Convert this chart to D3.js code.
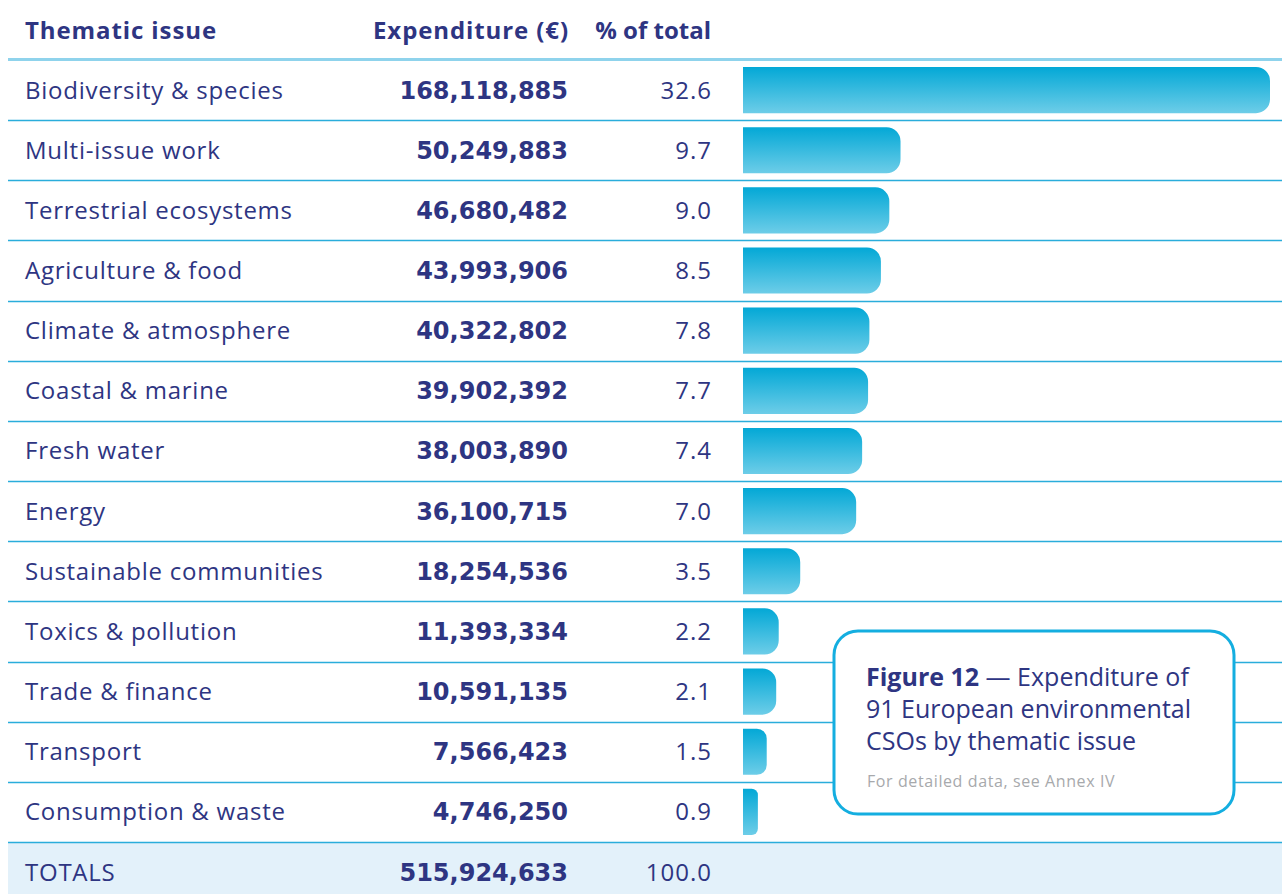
<!DOCTYPE html>
<html>
<head>
<meta charset="utf-8">
<script src="https://cdn.jsdelivr.net/npm/d3@7"></script>
<style>
  body { margin: 0; background: #fff; }
  text { font-family: "Open Sans", sans-serif; }
  .num { font-family: "DejaVu Sans", sans-serif; }
</style>
</head>
<body>
<svg id="chart"></svg>
<script>
const categories = [
  "Biodiversity & species", "Multi-issue work", "Terrestrial ecosystems",
  "Agriculture & food", "Climate & atmosphere", "Coastal & marine",
  "Fresh water", "Energy", "Sustainable communities", "Toxics & pollution",
  "Trade & finance", "Transport", "Consumption & waste"
];
const expenditure = [
  168118885, 50249883, 46680482, 43993906, 40322802, 39902392,
  38003890, 36100715, 18254536, 11393334, 10591135, 7566423, 4746250
];
const percent = [32.6, 9.7, 9.0, 8.5, 7.8, 7.7, 7.4, 7.0, 3.5, 2.2, 2.1, 1.5, 0.9];
const totalLabel = "TOTALS";
const totalExpenditure = 515924633;
const totalPercent = 100.0;
const headers = ["Thematic issue", "Expenditure (€)", "% of total"];

const W = 1282, H = 894;
const navy = "#2e3582", lineCol = "#2aaddb";

const svg = d3.select("#chart").attr("width", W).attr("height", H);

const defs = svg.append("defs");
const grad = defs.append("linearGradient").attr("id", "barGrad")
  .attr("x1", 0).attr("y1", 0).attr("x2", 0).attr("y2", 1);
grad.append("stop").attr("offset", "0%").attr("stop-color", "#03a8d6");
grad.append("stop").attr("offset", "100%").attr("stop-color", "#6dcde8");

const rows = categories.concat([totalLabel]);
const y = d3.scaleBand().domain(rows).range([60, 60 + 14 * 60.15]).padding(0);
const x = d3.scaleLinear().domain([0, d3.max(expenditure)]).range([743, 1270]);
const fmt = d3.format(",");

// totals background
svg.append("rect")
  .attr("x", 8).attr("y", y(totalLabel))
  .attr("width", W - 8).attr("height", H - y(totalLabel))
  .attr("fill", "#e3f1fa");

// row separators
svg.append("line").attr("x1", 8).attr("x2", W).attr("y1", 59.5).attr("y2", 59.5)
  .attr("stroke", "#8fd3ec").attr("stroke-width", 3);
svg.selectAll(".sep")
  .data(rows.slice(1))
  .enter()
  .append("line")
  .attr("x1", 8).attr("x2", W)
  .attr("y1", d => Math.round(y(d)) + 0.5)
  .attr("y2", d => Math.round(y(d)) + 0.5)
  .attr("stroke", lineCol).attr("stroke-width", 1.5);

// headers
const hy = 39;
const head = svg.append("g").attr("fill", navy).attr("font-weight", 700).attr("font-size", 24);
head.append("text").attr("x", 25).attr("y", hy).attr("letter-spacing", 0.9).text(headers[0]);
head.append("text").attr("x", 569).attr("y", hy).attr("letter-spacing", 0.9)
  .attr("text-anchor", "end").text(headers[1]);
head.append("text").attr("x", 711).attr("y", hy).attr("text-anchor", "end").text(headers[2]);

// rows
const data = categories.map((c, i) => ({ c, v: expenditure[i], p: percent[i] }));
const allRows = data.concat([{ c: totalLabel, v: totalExpenditure, p: totalPercent, total: true }]);
const mid = d => y(d.c) + y.bandwidth() / 2 + 8.5;

svg.selectAll(".lab").data(allRows).enter().append("text")
  .attr("x", 25).attr("y", mid).text(d => d.c)
  .attr("fill", navy).attr("font-size", 24).attr("letter-spacing", 0.75);
svg.selectAll(".amt").data(allRows).enter().append("text")
  .attr("class", "num")
  .attr("x", 568).attr("y", mid).attr("text-anchor", "end").text(d => fmt(d.v))
  .attr("fill", navy).attr("font-size", 24).attr("font-weight", 700);
svg.selectAll(".pct").data(allRows).enter().append("text")
  .attr("x", 712).attr("y", mid).attr("text-anchor", "end").text(d => d.p.toFixed(1))
  .attr("fill", navy).attr("font-size", 24).attr("letter-spacing", 1);

// bars with rounded right end
function barPath(d) {
  const x0 = x(0), x1 = x(d.v);
  const y0 = y(d.c) + 7, y1 = y(d.c) + y.bandwidth() - 7;
  const w = x1 - x0;
  const r = Math.min(14, w / 2.4);
  return `M${x0},${y0}H${x1 - r}A${r},${r} 0 0 1 ${x1},${y0 + r}` +
    `V${y1 - r}A${r},${r} 0 0 1 ${x1 - r},${y1}H${x0}Z`;
}
svg.selectAll(".bar").data(data).enter().append("path")
  .attr("d", barPath).attr("fill", "url(#barGrad)");

// caption box
const box = svg.append("g").attr("transform", "translate(834,631)");
box.append("rect").attr("x", 0).attr("y", 0).attr("width", 400).attr("height", 183)
  .attr("rx", 24).attr("fill", "#fff").attr("stroke", "#14aee0").attr("stroke-width", 3);
const cap = box.append("g").attr("fill", navy).attr("font-size", 25);
const t1 = cap.append("text").attr("x", 32).attr("y", 55);
t1.append("tspan").attr("font-weight", 700).text("Figure 12");
t1.append("tspan").text(" — Expenditure of");
cap.append("text").attr("x", 32).attr("y", 87).text("91 European environmental");
cap.append("text").attr("x", 32).attr("y", 119).text("CSOs by thematic issue");
box.append("text").attr("x", 33).attr("y", 156).attr("fill", "#a7a9ac").attr("font-size", 16)
  .attr("letter-spacing", 0.6).text("For detailed data, see Annex IV");
</script>
</body>
</html>
